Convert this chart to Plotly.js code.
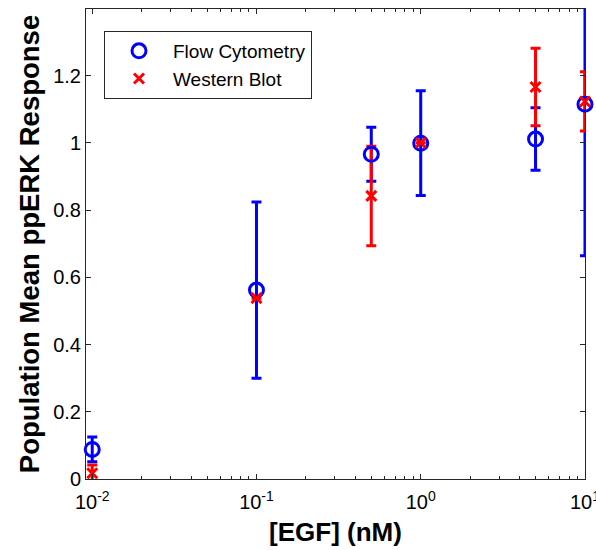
<!DOCTYPE html>
<html>
<head>
<meta charset="utf-8">
<script src="https://cdn.plot.ly/plotly-3.0.1.min.js"></script>
<style>
  html, body { margin: 0; padding: 0; background: #fff; }
  #chart { width: 596px; height: 550px; }
</style>
</head>
<body>
<div id="chart"></div>
<script>
// EGF concentrations (nM)
var egf = [0.01, 0.1, 0.5, 1, 5, 10];

// Flow Cytometry: mean response and error
var flowMean = [0.088, 0.562, 0.966, 0.999, 1.011, 1.115];
var flowErr  = [0.037, 0.262, 0.080, 0.156, 0.093, 0.451];

// Western Blot: mean response and error
var westMean = [0.017, 0.538, 0.842, 1.000, 1.166, 1.123];
var westErr  = [0.025, 0.000, 0.148, 0.000, 0.115, 0.088];

// Axis tick labels
var xTickVals = [0.01, 0.1, 1, 10];
var xTickText = ['10<sup>-2</sup>', '10<sup>-1</sup>', '10<sup>0</sup>', '10<sup>1</sup>'];
var yTickVals = [0, 0.2, 0.4, 0.6, 0.8, 1, 1.2];
var yTickText = ['0', '0.2', '0.4', '0.6', '0.8', '1', '1.2'];

// minor ticks of the log axis: 2..9 in each decade
var minorTickVals = [];
[0.01, 0.1, 1].forEach(function (d) {
  for (var k = 2; k <= 9; k++) minorTickVals.push(k * d);
});

var BLUE = '#0000ff';
var RED = '#ff0000';
var FONT = 'Liberation Sans, Arial, Helvetica, sans-serif';
var XRANGE = [-2.038, 1.0002];

function errTrace(y, e, color) {
  return {
    x: egf, y: y, type: 'scatter', mode: 'markers',
    marker: { size: 2, color: 'rgba(0,0,0,0)' },
    error_y: { type: 'data', array: e, visible: true, color: color, thickness: 3, width: 5 },
    showlegend: false, hoverinfo: 'skip', cliponaxis: true
  };
}

var traces = [
  errTrace(flowMean, flowErr, BLUE),
  errTrace(westMean, westErr, RED),
  {
    x: egf, y: flowMean, type: 'scatter', mode: 'markers', name: 'Flow Cytometry',
    marker: { symbol: 'circle-open', size: 14, color: BLUE, line: { width: 3, color: BLUE } },
    cliponaxis: false
  },
  {
    x: egf, y: westMean, type: 'scatter', mode: 'markers', name: 'Western Blot',
    marker: { symbol: 'x-thin-open', size: 10, color: RED, line: { width: 3, color: RED } },
    cliponaxis: false
  }
];

var axisCommon = {
  showgrid: false, zeroline: false,
  showline: true, linecolor: '#262626', linewidth: 1,
  mirror: 'ticks', ticks: 'inside', ticklen: 5, tickcolor: '#262626', tickwidth: 1,
  tickfont: { family: FONT, size: 20, color: '#000' }
};

var layout = {
  width: 596, height: 550,
  margin: { l: 86, r: 11, t: 9, b: 71, pad: 0 },
  paper_bgcolor: '#fff', plot_bgcolor: '#fff',
  font: { family: FONT, color: '#000' },
  showlegend: true,
  xaxis: Object.assign({}, axisCommon, {
    type: 'log',
    range: XRANGE,
    tickmode: 'array', tickvals: xTickVals, ticktext: xTickText,
    ticklabelstandoff: 5,
    ticklabeloverflow: 'allow',
    minor: { ticks: 'inside', ticklen: 3, tickcolor: '#262626', tickwidth: 1, tickvals: minorTickVals, showgrid: false },
    title: { text: '[EGF] (nM)', font: { family: FONT, size: 26, color: '#000', weight: 'bold' }, standoff: 10 },
    automargin: false
  }),
  yaxis: Object.assign({}, axisCommon, {
    range: [0, 1.398],
    tickmode: 'array', tickvals: yTickVals, ticktext: yTickText,
    ticklabelstandoff: 0,
    title: { text: 'Population Mean ppERK Response', font: { family: FONT, size: 27.5, color: '#000', weight: 'bold' }, standoff: 5 },
    automargin: false
  }),
  legend: {
    x: (104 - 86) / 499, y: 1 - (31 - 9) / 470, xanchor: 'left', yanchor: 'top',
    bgcolor: '#fff', bordercolor: '#262626', borderwidth: 1,
    font: { family: FONT, size: 19, color: '#000' },
    itemwidth: 58
  }
};

Plotly.newPlot('chart', traces, layout, { displayModeBar: false, staticPlot: true });
</script>
</body>
</html>
